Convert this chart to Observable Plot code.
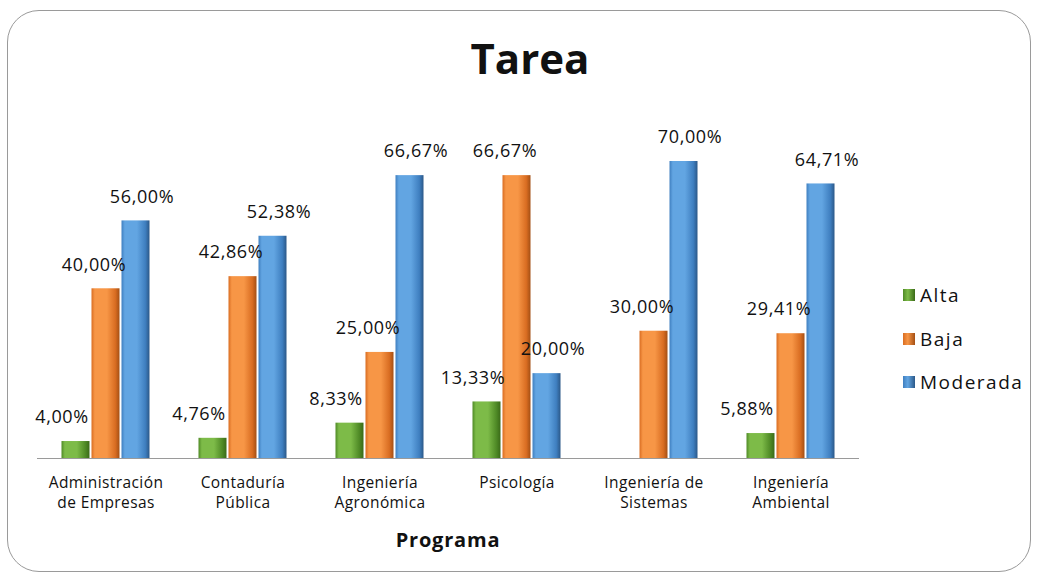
<!DOCTYPE html>
<html>
<head>
<meta charset="utf-8">
<script src="https://cdn.jsdelivr.net/npm/d3@7"></script>
<script src="https://cdn.jsdelivr.net/npm/@observablehq/plot@0.6"></script>
<style>
  body { margin: 0; background: #fff; }
  #wrap { position: relative; width: 1040px; height: 580px; overflow: hidden; font-family: "Open Sans", sans-serif; color: #111; }
  #frame { position: absolute; left: 7px; top: 10px; width: 1024px; height: 562px; border: 1.5px solid #9a9a9a; border-radius: 32px; box-sizing: border-box; }
  #title { position: absolute; left: 0; width: 1060px; top: 30px; text-align: center; font-weight: 700; font-size: 42px; line-height: 56px; }
  #xlabel { position: absolute; left: 37px; width: 822px; top: 527px; text-align: center; font-weight: 700; font-size: 20px; letter-spacing: 0.8px; line-height: 26px; }
  #legend { position: absolute; left: 903px; top: 282px; }
  .lg { display: flex; align-items: center; height: 26px; margin-bottom: 17.5px; font-size: 19px; letter-spacing: 1.5px; }
  .sw { width: 12px; height: 12px; margin-right: 5px; }
  #chart { position: absolute; left: 0; top: 0; }
  #chart svg g[aria-label="text"] text { letter-spacing: 0.6px; }
  #chart svg g[aria-label="fx-axis tick label"] text { letter-spacing: 0.4px; }
</style>
</head>
<body>
<div id="wrap">
  <div id="frame"></div>
  <div id="chart"></div>
  <div id="title">Tarea</div>
  <div id="xlabel">Programa</div>
  <div id="legend"></div>
</div>
<script>
const programas = ["Administración\nde Empresas", "Contaduría\nPública", "Ingeniería\nAgronómica", "Psicología", "Ingeniería de\nSistemas", "Ingeniería\nAmbiental"];
const series = ["Alta", "Baja", "Moderada"];
const alta = [4.00, 4.76, 8.33, 13.33, null, 5.88];
const baja = [40.00, 42.86, 25.00, 66.67, 30.00, 29.41];
const moderada = [56.00, 52.38, 66.67, 20.00, 70.00, 64.71];

const colores = {
  Alta: ["#4f8a26", "#7dbb48", "#3a6a18"],
  Baja: ["#d96d22", "#f79646", "#a44f14"],
  Moderada: ["#3f7fc0", "#62a5e2", "#2b5888"]
};
const gradId = {Alta: "gAlta", Baja: "gBaja", Moderada: "gModerada"};

const valores = {Alta: alta, Baja: baja, Moderada: moderada};
const data = [];
programas.forEach((p, i) => series.forEach(s => {
  data.push({programa: p, serie: s, valor: valores[s][i]});
}));
const conValor = data.filter(d => d.valor != null && d.valor > 0);
const fmt = v => v.toFixed(2).replace(".", ",") + "%";
const labelDx = {Alta: -14, Baja: -12, Moderada: 6};

const chart = Plot.plot({
  width: 1040,
  height: 580,
  marginLeft: 37,
  marginRight: 181,
  marginTop: 161,
  marginBottom: 122,
  style: {background: "transparent", fontFamily: "'Open Sans', sans-serif", overflow: "visible", color: "#111"},
  fx: {domain: programas, padding: 0, label: null},
  x: {domain: series, paddingInner: 0.03, paddingOuter: 0.75, axis: null},
  y: {domain: [0, 70], axis: null},
  color: {domain: series, range: series.map(s => `url(#${gradId[s]})`)},
  marks: [
    Plot.barY(conValor, {fx: "programa", x: "serie", y: "valor", fill: "serie", insetLeft: 0.5, insetRight: 0.5}),
    Plot.ruleY([0], {stroke: "#9a9a9a", strokeWidth: 1.2}),
    ...series.map(s => Plot.text(conValor.filter(d => d.serie === s), {
      fx: "programa", x: "serie", y: "valor", text: d => fmt(d.valor),
      dy: -24, dx: labelDx[s], fontSize: 18, fill: "#111"
    })),
    Plot.axisFx({anchor: "bottom", tickSize: 0, tickPadding: 15, fontSize: 15.5, lineHeight: 1.32, label: null, fill: "#111"})
  ]
});

// gradient definitions for the bevelled bars
const ns = "http://www.w3.org/2000/svg";
const defs = document.createElementNS(ns, "defs");
for (const s of series) {
  const g = document.createElementNS(ns, "linearGradient");
  g.setAttribute("id", gradId[s]);
  g.setAttribute("x1", "0"); g.setAttribute("x2", "1"); g.setAttribute("y1", "0"); g.setAttribute("y2", "0");
  const stops = [[0, colores[s][0]], [0.12, colores[s][1]], [0.55, colores[s][1]], [0.85, colores[s][0]], [1, colores[s][2]]];
  for (const [o, c] of stops) {
    const st = document.createElementNS(ns, "stop");
    st.setAttribute("offset", o); st.setAttribute("stop-color", c);
    g.appendChild(st);
  }
  defs.appendChild(g);
}
chart.insertBefore(defs, chart.firstChild);
document.getElementById("chart").appendChild(chart);

const legend = document.getElementById("legend");
for (const s of series) {
  const row = document.createElement("div");
  row.className = "lg";
  const sw = document.createElement("div");
  sw.className = "sw";
  sw.style.background = `linear-gradient(90deg, ${colores[s][0]}, ${colores[s][1]} 40%, ${colores[s][2]})`;
  const t = document.createElement("span");
  t.textContent = s;
  row.appendChild(sw); row.appendChild(t);
  legend.appendChild(row);
}
</script>
</body>
</html>
